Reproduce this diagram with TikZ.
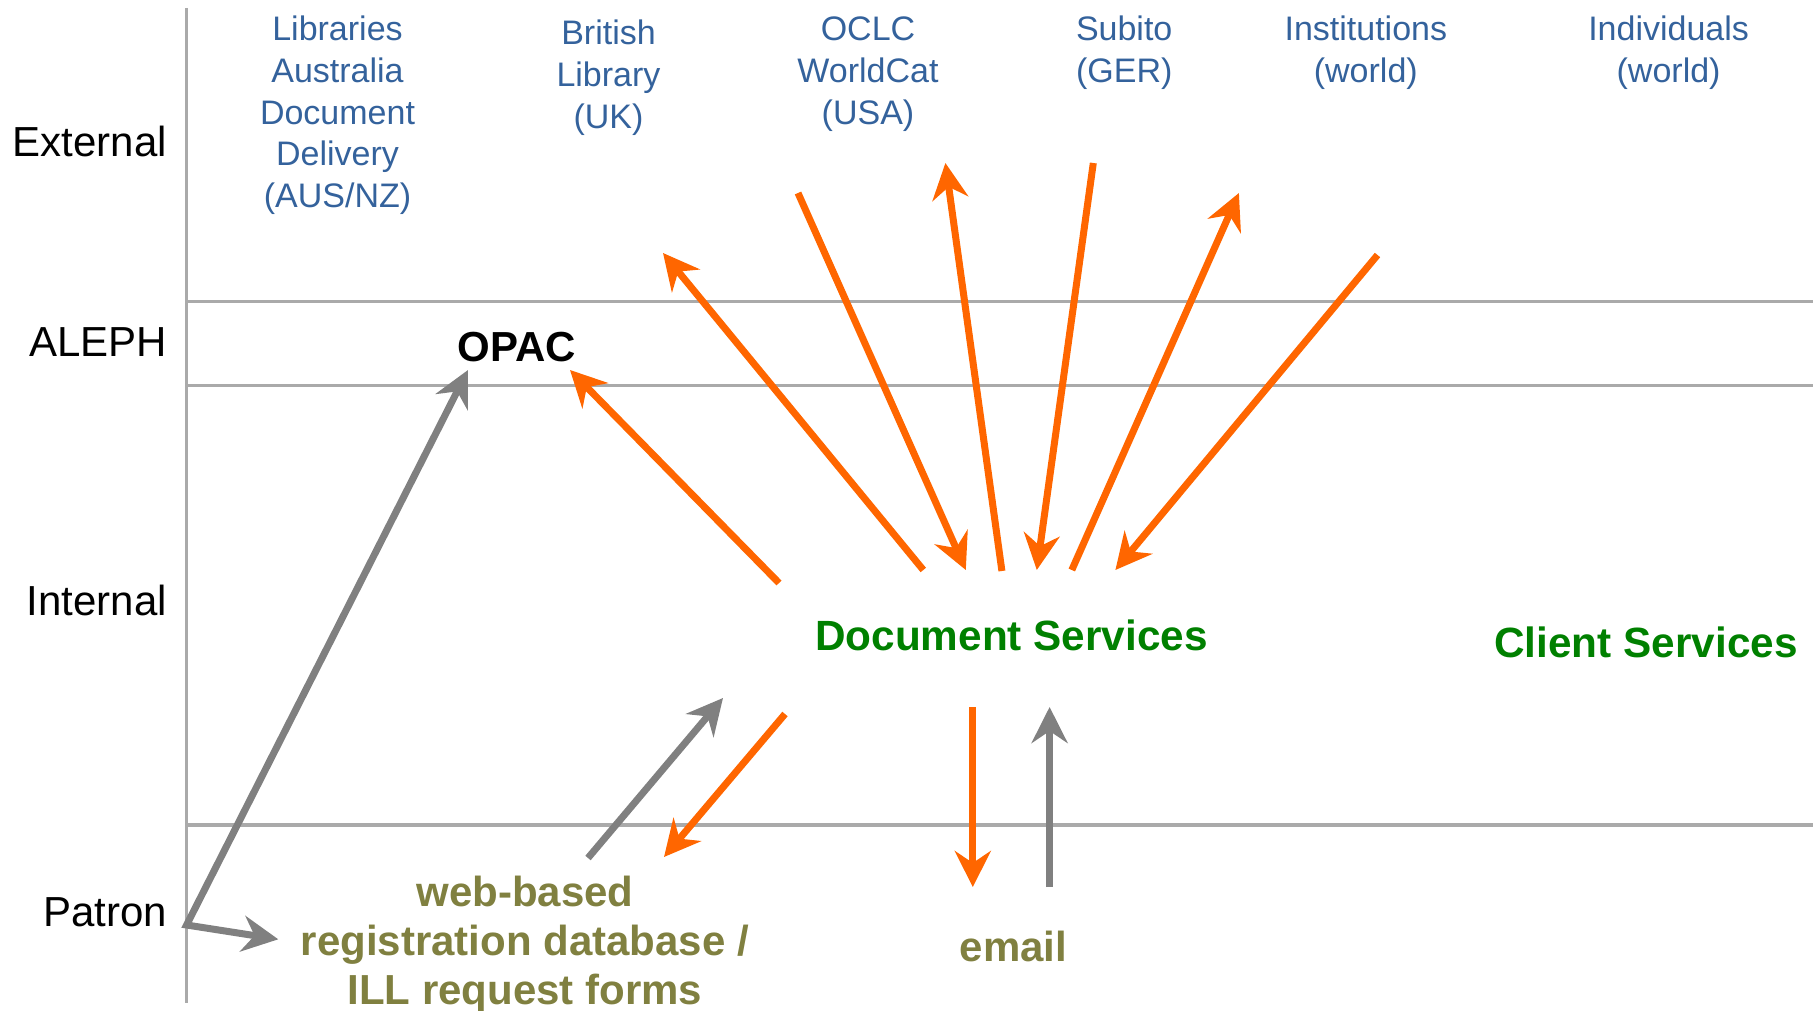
\documentclass[tikz,border=0pt]{standalone}
\usepackage{fontspec}
\setmainfont{Liberation Sans}
\usetikzlibrary{arrows.meta}
\definecolor{extblue}{RGB}{52,98,156}
\definecolor{arrorange}{RGB}{255,102,0}
\definecolor{arrgray}{RGB}{128,128,128}
\definecolor{linegray}{RGB}{170,170,170}
\definecolor{svcgreen}{RGB}{0,128,0}
\definecolor{patronolive}{RGB}{128,128,64}
\begin{document}
\begin{tikzpicture}[x=1pt,y=-1pt,
  lanelabel/.style={anchor=base east, inner sep=0pt, font=\fontsize{42}{49}\selectfont},
  extlabel/.style={anchor=base, align=center, inner sep=0pt, text=extblue, font=\fontsize{34}{41.7}\selectfont},
  svclabel/.style={anchor=base, inner sep=0pt, text=svcgreen, font=\fontsize{42.3}{49}\selectfont\bfseries},
  patlabel/.style={anchor=base, align=center, inner sep=0pt, text=patronolive, font=\fontsize{42}{49}\selectfont\bfseries},
  lane/.style={draw=linegray, line width=3.3pt},
  tipstyle/.style={-{Stealth[length=36pt,width=36pt,inset=12pt]}},
  flowo/.style={draw=arrorange, line width=7pt, tipstyle},
  flowg/.style={draw=arrgray, line width=7pt, tipstyle}
]
\useasboundingbox (0,0) rectangle (1813,1011);

% swimlane frame
\coordinate (vtop) at (186.6,8);
\coordinate (vbot) at (186.6,1003);
\draw[lane] (vtop) -- (vbot);
\coordinate (l1a) at (186.6,301.7); \coordinate (l1b) at (1813,301.7);
\coordinate (l2a) at (186.6,385.7); \coordinate (l2b) at (1813,385.7);
\coordinate (l3a) at (186.6,825);   \coordinate (l3b) at (1813,825);
\draw[lane] (l1a) -- (l1b);
\draw[lane] (l2a) -- (l2b);
\draw[lane] (l3a) -- (l3b);

% lane labels
\node[lanelabel] (ext) at (167,156.7) {External};
\node[lanelabel] (aleph) at (167,356.7) {ALEPH};
\node[lanelabel] (int) at (167,615) {Internal};
\node[lanelabel] (pat) at (167,926.7) {Patron};

% external providers (anchor = baseline of last line)
\node[extlabel] (lad) at (337.5,207.5) {Libraries\\Australia\\Document\\Delivery\\(AUS/NZ)};
\node[extlabel] (bl) at (608.5,128.4) {British\\Library\\(UK)};
\node[extlabel] (oclc) at (868,124.1) {OCLC\\WorldCat\\(USA)};
\node[extlabel] (sub) at (1124.2,82.4) {Subito\\(GER)};
\node[extlabel] (inst) at (1365.8,82.4) {Institutions\\(world)};
\node[extlabel] (indiv) at (1668.6,82.4) {Individuals\\(world)};

% main nodes
\node[anchor=base, inner sep=0pt, font=\fontsize{42}{49}\selectfont\bfseries] (opac) at (517,361.7) {OPAC};
\node[svclabel] (docs) at (1011.5,650) {Document Services};
\node[svclabel] (clients) at (1646,657) {Client Services};
\node[patlabel] (web) at (525,1004.7) {web-based\\registration database /\\ILL request forms};
\node[patlabel] (email) at (1013.6,961.7) {email};

% arrow end points
\coordinate (pcorner) at (186.6,925);
\coordinate (opacin1) at (468,370);
\coordinate (webin1) at (278.3,939.3);
\coordinate (ds2opac) at (779,583);
\coordinate (opacin2) at (570,370);
\coordinate (ds2bl) at (923.3,570);
\coordinate (blin) at (663,253);
\coordinate (oclcout) at (798,193);
\coordinate (dsin1) at (965.8,570);
\coordinate (ds2oclc) at (1001.9,571);
\coordinate (oclcin) at (945.4,163);
\coordinate (subout) at (1093.3,163);
\coordinate (dsin2) at (1036.8,570);
\coordinate (ds2inst) at (1071.8,570);
\coordinate (instin) at (1238.9,193);
\coordinate (indout) at (1377.5,255);
\coordinate (dsin3) at (1115.4,570);
\coordinate (webout) at (588,858);
\coordinate (dsin4) at (723,698);
\coordinate (ds2web) at (785,714);
\coordinate (webin2) at (664,857);
\coordinate (ds2mail) at (972.8,707);
\coordinate (mailin) at (972.8,887);
\coordinate (mailout) at (1049.6,887);
\coordinate (dsin5) at (1049.6,707);

% patron arrows
\draw[draw=arrgray, line width=7pt, line join=miter, {Stealth[length=36pt,width=36pt,inset=12pt]}-{Stealth[length=36pt,width=36pt,inset=12pt]}] (opacin1) -- (pcorner) -- (webin1);

% document services flows
\draw[flowo] (ds2opac) -- (opacin2);
\draw[flowo] (ds2bl) -- (blin);
\draw[flowo] (oclcout) -- (dsin1);
\draw[flowo] (ds2oclc) -- (oclcin);
\draw[flowo] (subout) -- (dsin2);
\draw[flowo] (ds2inst) -- (instin);
\draw[flowo] (indout) -- (dsin3);
\draw[flowg] (webout) -- (dsin4);
\draw[flowo] (ds2web) -- (webin2);
\draw[flowo] (ds2mail) -- (mailin);
\draw[flowg] (mailout) -- (dsin5);
\end{tikzpicture}
\end{document}
